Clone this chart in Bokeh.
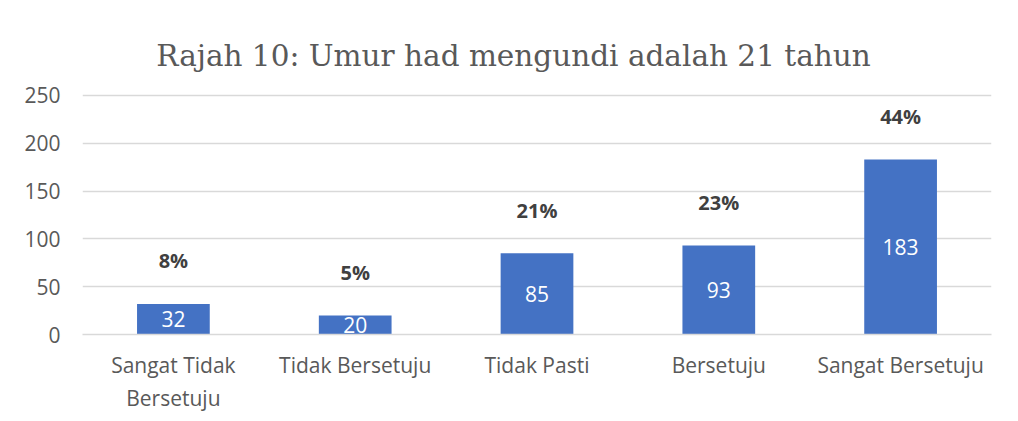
from bokeh.plotting import figure
from bokeh.models import ColumnDataSource, Range1d, FactorRange, Label
from bokeh.core.properties import value
from bokeh.embed import file_html
from bokeh.resources import INLINE

categories = ["Sangat Tidak\nBersetuju", "Tidak Bersetuju", "Tidak Pasti", "Bersetuju", "Sangat Bersetuju"]
counts = [32, 20, 85, 93, 183]
percents = ["8%", "5%", "21%", "23%", "44%"]
y_ticks = [0, 50, 100, 150, 200, 250]
title_text = "Rajah 10: Umur had mengundi adalah 21 tahun"

src = ColumnDataSource(dict(
    cat=categories,
    val=counts,
    half=[v / 2 for v in counts],
    lbl=[str(v) for v in counts],
    pct=percents,
))

# frame extends upward so the title can sit inside it; 250 still lands at the top gridline
p = figure(
    width=1018, height=421,
    x_range=FactorRange(*categories), y_range=Range1d(0, 338.9),
    output_backend="svg", toolbar_location=None,
    min_border_left=82, min_border_right=27, min_border_top=10, min_border_bottom=87,
)
p.outline_line_color = None

p.add_layout(Label(x=431, y=279, x_units="screen", y_units="screen",
                   text=title_text, text_align="center", text_baseline="alphabetic",
                   text_font="DejaVu Serif", text_font_size="29.5px", text_color="#595959"))

p.vbar(x="cat", top="val", width=0.4, source=src, fill_color="#4472C4", line_color=None)
p.text(x="cat", y="half", text="lbl", source=src, text_align="center", text_baseline="middle",
       text_font=value("Open Sans"), text_font_size="21px", text_color="white")
p.text(x="cat", y="val", text="pct", source=src, text_align="center", text_baseline="middle",
       y_offset=-43, text_font=value("Open Sans"), text_font_size="20px", text_font_style="bold",
       text_color="#404040")

p.xgrid.grid_line_color = None
p.ygrid.grid_line_color = "#d9d9d9"
p.ygrid.grid_line_width = 1.5
p.yaxis.ticker = y_ticks

for ax in (p.xaxis[0], p.yaxis[0]):
    ax.axis_line_color = None
    ax.major_tick_line_color = None
    ax.minor_tick_line_color = None
    ax.major_tick_in = 0
    ax.major_tick_out = 0
    ax.minor_tick_out = 0
    ax.major_label_text_font = "Open Sans"
    ax.major_label_text_font_size = "21px"
    ax.major_label_text_color = "#595959"
p.yaxis.major_label_standoff = 22
p.xaxis.major_label_standoff = 16
p.xaxis.axis_line_color = "#d9d9d9"
p.xaxis.axis_line_width = 1.5

open("out.html", "w").write(file_html(p, INLINE))
